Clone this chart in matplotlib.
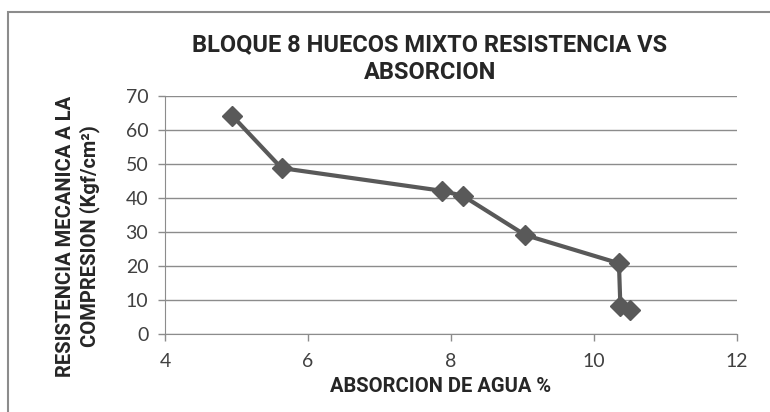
import matplotlib.pyplot as plt
from matplotlib.patches import Rectangle

# absorcion de agua (%) vs resistencia (Kgf/cm2)
absorcion = [4.94, 5.63, 7.88, 8.17, 9.04, 10.35, 10.37, 10.51]
resistencia = [64.2, 48.8, 42.1, 40.6, 29.1, 20.8, 8.3, 7.0]

x_ticks = [4, 6, 8, 10, 12]
y_ticks = [0, 10, 20, 30, 40, 50, 60, 70]

plt.rcParams['font.family'] = ['Lato', 'DejaVu Sans']
bold_font = ['Roboto', 'DejaVu Sans']

fig = plt.figure(figsize=(7.7, 4.12), dpi=100)
ax = fig.add_axes([0.2143, 0.1893, 0.7427, 0.5777])

# chart frame (cut off at right and bottom like the screenshot)
fig.patches.append(Rectangle((8 / 770, -0.1), 1.2, 1 - 12 / 412 + 0.1,
                             transform=fig.transFigure, fill=False,
                             edgecolor='#8c8c8c', lw=1.5))

ax.plot(absorcion, resistencia, color='#595959', lw=3, marker='D',
        markersize=10, markerfacecolor='#595959', markeredgecolor='#595959',
        zorder=3)

ax.set_xlim(4, 12)
ax.set_ylim(0, 70)
ax.set_xticks(x_ticks)
ax.set_yticks(y_ticks)
ax.grid(axis='y', color='#8c8c8c', lw=1)
ax.set_axisbelow(True)

for s in ['top', 'right']:
    ax.spines[s].set_visible(False)
for s in ['left', 'bottom']:
    ax.spines[s].set_color('#8c8c8c')
ax.tick_params(colors='#8c8c8c', labelcolor='#404040', labelsize=14,
               length=5, width=1)
ax.tick_params(axis='x', pad=9)
ax.tick_params(axis='y', pad=7)

ax.set_title('BLOQUE 8 HUECOS MIXTO RESISTENCIA VS\nABSORCION',
             fontsize=17, fontweight='bold', color='#262626', family=bold_font,
             linespacing=1.3, pad=12, x=0.463)
ax.set_xlabel('ABSORCION DE AGUA %', fontsize=14.5, fontweight='bold',
              color='#262626', family=bold_font)
ax.xaxis.set_label_coords(0.4825, -0.18)
ax.set_ylabel('RESISTENCIA MECANICA A LA\nCOMPRESION (Kgf/cm²)', fontsize=14.5,
              fontweight='bold', color='#262626', family=bold_font,
              linespacing=1.25)
ax.yaxis.set_label_coords(-0.114, 0.41)

fig.savefig('out.png', dpi=100)
